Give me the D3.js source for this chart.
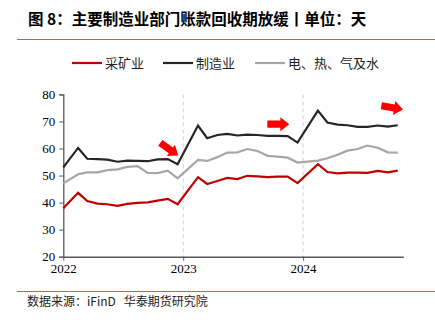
<!DOCTYPE html>
<html><head><meta charset="utf-8">
<script src="https://cdn.jsdelivr.net/npm/d3@7"></script>
<style>body{margin:0;background:#fff}svg{display:block}</style>
</head><body>
<svg id="c" width="435" height="324"></svg>
<script>
// ---- data ----
const dates = ["2022-01-01","2022-02-15","2022-03-15","2022-04-15","2022-05-15","2022-06-15","2022-07-15","2022-08-15","2022-09-15","2022-10-15","2022-11-15","2022-12-15",
 "2023-02-15","2023-03-15","2023-04-15","2023-05-15","2023-06-15","2023-07-15","2023-08-15","2023-09-15","2023-10-15","2023-11-15","2023-12-15",
 "2024-02-15","2024-03-15","2024-04-15","2024-05-15","2024-06-15","2024-07-15","2024-08-15","2024-09-15","2024-10-15"];
const mining = [37.9,43.6,40.6,39.6,39.4,38.8,39.5,39.9,40.1,40.7,41.4,39.4,
 49.4,46.9,48.0,49.1,48.7,49.9,49.7,49.4,49.6,49.6,47.2,
 54.2,51.3,50.8,51.1,51.1,51.0,51.7,51.2,51.8];
const manufacturing = [53.0,60.2,56.2,56.1,55.9,55.1,55.5,55.4,55.3,56.0,56.1,54.2,
 68.5,63.8,65.0,65.4,64.8,65.1,65.0,64.7,64.7,64.6,62.2,
 74.0,69.6,68.8,68.6,68.0,68.0,68.5,68.1,68.6];
const utilities = [47.1,50.5,51.2,51.2,52.0,52.3,53.2,53.5,51.0,50.9,51.8,49.0,
 55.8,55.4,56.8,58.5,58.6,59.8,59.1,57.3,57.0,56.6,54.8,
 55.5,56.4,57.7,59.2,59.8,61.1,60.3,58.6,58.5];
const seriesNames = ["采矿业","制造业","电、热、气及水"];
const seriesColors = ["#c00000","#262626","#a6a6a6"];
const yTicks = [20,30,40,50,60,70,80];
const xTickLabels = ["2022","2023","2024"];
const xDomain = ["2022-01-01","2024-11-01"];
const arrows = [ // tip date, tip value, angle (deg)
  {date:"2022-12-17", value:57.4, angle:35},
  {date:"2023-11-20", value:69.0, angle:0},
  {date:"2024-10-31", value:74.4, angle:10}
];
const title = "图 8：主要制造业部门账款回收期放缓丨单位：天";
const source = "数据来源：iFinD   华泰期货研究院";

// ---- chart ----
const svg = d3.select("#c");
const parse = d3.utcParse("%Y-%m-%d");
const m = {left:63.3, right:403.3, top:94.4, bottom:256.7};
const x = d3.scaleUtc().domain(xDomain.map(parse)).range([m.left, m.right]);
const y = d3.scaleLinear().domain([20,80]).range([m.bottom, m.top]);

// title
svg.append("text").attr("x",28).attr("y",25).attr("font-family","'Noto Sans CJK SC',sans-serif")
  .attr("font-weight","bold").attr("font-size",15.5).attr("fill","#000").text(title);
svg.append("line").attr("x1",17).attr("x2",435).attr("y1",39.5).attr("y2",39.5).attr("stroke","#d9534f").attr("stroke-width",1);

// legend
const legX = [72,163,255];
seriesNames.forEach((n,i)=>{
  const g = svg.append("g").attr("transform",`translate(${legX[i]},63)`);
  g.append("line").attr("x1",0).attr("x2",30).attr("stroke",seriesColors[i]).attr("stroke-width",2.2);
  g.append("text").attr("x",33).attr("y",4.5).attr("font-family","'Noto Sans CJK SC',sans-serif")
   .attr("font-size",13).attr("fill","#222").text(n);
});

// dashed year lines
const yearDates = xTickLabels.map(t=>parse(t+"-01-01"));
svg.append("g").selectAll("line").data(yearDates.slice(1)).join("line")
  .attr("x1",d=>x(d)).attr("x2",d=>x(d)).attr("y1",m.top).attr("y2",m.bottom)
  .attr("stroke","#d0d0d0").attr("stroke-width",1).attr("stroke-dasharray","4,3");

// axes
const yAxis = svg.append("g").attr("transform",`translate(${m.left},0)`)
  .call(d3.axisLeft(y).tickValues(yTicks).tickSize(4).tickPadding(4));
yAxis.select(".domain").attr("stroke","#595959").attr("stroke-width",1.3);
yAxis.selectAll(".tick line").attr("stroke","#595959");
yAxis.selectAll("text").attr("font-family","'Liberation Serif',serif").attr("font-size",13).attr("fill","#000");

const xAxis = svg.append("g").attr("transform",`translate(0,${m.bottom})`)
  .call(d3.axisBottom(x).tickValues(yearDates).tickFormat((d,i)=>xTickLabels[i]).tickSize(4).tickSizeOuter(0).tickPadding(3));
xAxis.select(".domain").attr("stroke","#595959").attr("stroke-width",1.5);
xAxis.selectAll(".tick line").attr("stroke","#595959");
xAxis.selectAll("text").attr("font-family","'Liberation Serif',serif").attr("font-size",13).attr("fill","#000");

// lines
const pd = dates.map(parse);
const line = d3.line().x((d,i)=>x(pd[i])).y(d=>y(d));
[mining, manufacturing, utilities].forEach((s,i)=>{
  svg.append("path").datum(s).attr("d",line).attr("fill","none")
    .attr("stroke",seriesColors[i]).attr("stroke-width",2.2).attr("stroke-linejoin","miter");
});

// arrows
const arrowShape = "M0,0 L-9,-7 L-9,-3.6 L-22,-3.6 L-22,3.6 L-9,3.6 L-9,7 Z";
svg.append("g").selectAll("path").data(arrows).join("path")
  .attr("d",arrowShape).attr("fill","#ff0000")
  .attr("transform",d=>`translate(${x(parse(d.date))},${y(d.value)}) rotate(${d.angle})`);

// footer
svg.append("line").attr("x1",17).attr("x2",435).attr("y1",291.5).attr("y2",291.5).attr("stroke","#d9534f").attr("stroke-width",1);
svg.append("text").attr("x",27).attr("y",306).attr("font-family","'Noto Sans CJK SC',sans-serif")
  .attr("font-size",12).attr("fill","#222").attr("xml:space","preserve").style("white-space","pre").text(source);
</script>
</body></html>
